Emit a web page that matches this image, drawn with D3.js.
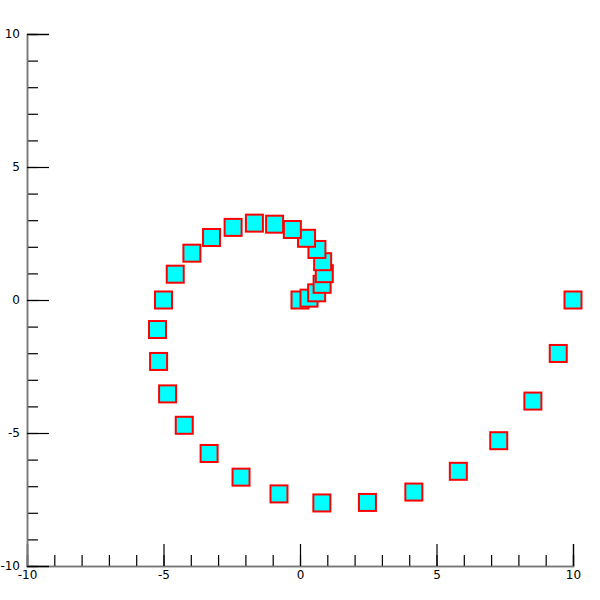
<!DOCTYPE html>
<html>
<head>
<meta charset="utf-8">
<script src="https://cdn.jsdelivr.net/npm/d3@7"></script>
<style>
  body { margin: 0; background: #fff; }
  text { font-family: "DejaVu Sans", sans-serif; }
</style>
</head>
<body>
<div id="chart"></div>
<script>
// spiral points, from the centre outward
var xs = [0, 0.33, 0.61, 0.81, 0.89, 0.83, 0.62, 0.24, -0.28, -0.93, -1.67, -2.45, -3.24, -3.96, -4.57, -5.0,
          -5.22, -5.18, -4.85, -4.24, -3.33, -2.16, -0.77, 0.8, 2.47, 4.17, 5.8, 7.28, 8.53, 9.46, 10];
var ys = [0, 0.07, 0.27, 0.59, 0.99, 1.44, 1.9, 2.32, 2.65, 2.85, 2.89, 2.73, 2.35, 1.76, 0.97, 0,
          -1.11, -2.31, -3.53, -4.71, -5.77, -6.66, -7.29, -7.63, -7.61, -7.22, -6.44, -5.29, -3.8, -2.01, 0];
var majorTicks = [-10, -5, 0, 5, 10];
var minorTicks = [-10, -9, -8, -7, -6, -5, -4, -3, -2, -1, 0, 1, 2, 3, 4, 5, 6, 7, 8, 9, 10];

var width = 600, height = 600;
var svg = d3.select('#chart').append('svg')
  .attr('width', width)
  .attr('height', height);

var x = d3.scaleLinear().domain([-10, 10]).range([27, 573]);
var y = d3.scaleLinear().domain([-10, 10]).range([566, 34]);

function styleAxis(g) {
  g.select('.domain').attr('stroke', '#777').attr('stroke-width', 1.5);
  g.selectAll('.tick line').attr('stroke', '#000').attr('stroke-width', 1.2);
  g.selectAll('.tick text').attr('fill', '#000').style('font-size', '12px');
}

var noLabel = function () { return ''; };
var label = function (d) { return String(d); };

// minor ticks first
svg.append('g')
  .attr('transform', 'translate(0,' + y(-10) + ')')
  .call(d3.axisBottom(x).tickValues(minorTicks).tickSize(-11).tickFormat(noLabel))
  .call(styleAxis);
svg.append('g')
  .attr('transform', 'translate(' + x(-10) + ',0)')
  .call(d3.axisLeft(y).tickValues(minorTicks).tickSize(-11).tickFormat(noLabel))
  .call(styleAxis);

// major ticks with labels
svg.append('g')
  .attr('transform', 'translate(0,' + y(-10) + ')')
  .call(d3.axisBottom(x).tickValues(majorTicks).tickSize(-22).tickPadding(4).tickFormat(label))
  .call(styleAxis);
svg.append('g')
  .attr('transform', 'translate(' + x(-10) + ',0)')
  .call(d3.axisLeft(y).tickValues(majorTicks).tickSize(-22).tickPadding(7).tickFormat(label))
  .call(styleAxis);

var side = 17;
svg.append('g').selectAll('rect')
  .data(xs)
  .enter().append('rect')
  .attr('x', function (d) { return x(d) - side / 2; })
  .attr('y', function (d, i) { return y(ys[i]) - side / 2; })
  .attr('width', side)
  .attr('height', side)
  .attr('fill', '#00ffff')
  .attr('stroke', '#ff0000')
  .attr('stroke-width', 2);
</script>
</body>
</html>
